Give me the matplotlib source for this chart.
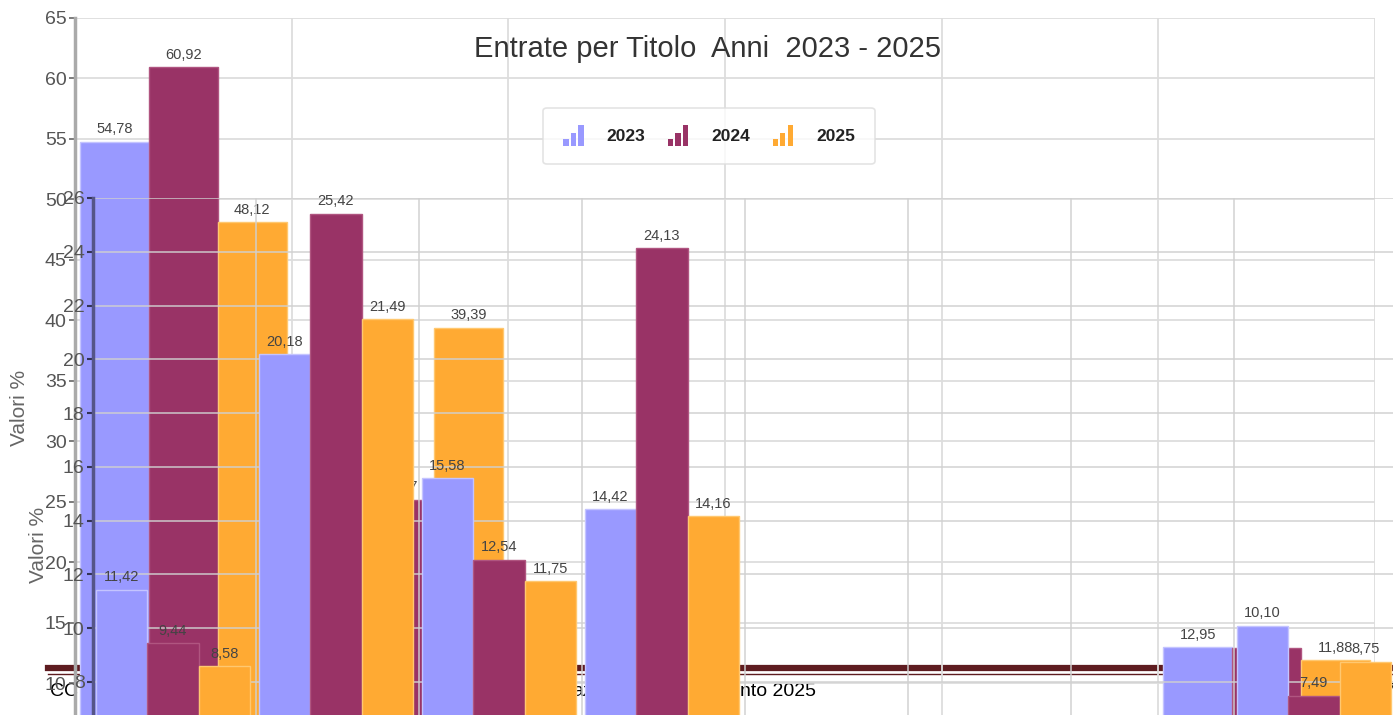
import numpy as np
import matplotlib
matplotlib.use("Agg")
import matplotlib.pyplot as plt
from matplotlib.patches import Rectangle
from matplotlib.legend_handler import HandlerBase
from matplotlib.lines import Line2D

plt.rcParams['font.family'] = ['Liberation Sans', 'DejaVu Sans']

# ---------------- data ----------------
years = ["2023", "2024", "2025"]
colors = ["#9999FF", "#993366", "#FFAA33"]
edge_colors = ["#C4C4FF", "#B05580", "#FFC870"]

# back chart (scale 0-65)
back_2023 = [54.78, np.nan, np.nan, np.nan, np.nan, 12.95]
back_2024 = [60.92, 25.17, np.nan, np.nan, np.nan, 12.91]
back_2025 = [48.12, 39.39, np.nan, np.nan, np.nan, 11.88]
back_ticks = [10, 15, 20, 25, 30, 35, 40, 45, 50, 55, 60, 65]

# front chart (scale 8-26)
front_2023 = [11.42, 20.18, 15.58, 14.42, np.nan, np.nan, np.nan, 10.10]
front_2024 = [9.44, 25.42, 12.54, 24.13, np.nan, np.nan, np.nan, 7.49]
front_2025 = [8.58, 21.49, 11.75, 14.16, np.nan, np.nan, np.nan, 8.75]
front_ticks = [8, 10, 12, 14, 16, 18, 20, 22, 24, 26]

title = "Entrate per Titolo  Anni  2023 - 2025"
ylabel = "Valori %"
footer_bits = [("CC", 50), ("az", 572), ("nto 2025", 740), ("7", 1385)]

# ---------------- layout helpers ----------------
W, H = 1393, 715
fig = plt.figure(figsize=(W / 100, H / 100), dpi=100)
fig.patch.set_facecolor("white")

def fx(px):
    return px / W

def fy(py):
    return 1 - py / H

def fmt(v):
    return f"{v:.2f}".replace(".", ",")

# footer layer (behind everything)
fig.add_artist(Line2D([fx(48), 1.0], [fy(667.5), fy(667.5)], color="#5E1C20",
                      lw=4.5, zorder=-5, transform=fig.transFigure))
fig.add_artist(Line2D([fx(48), 1.0], [fy(674), fy(674)], color="#5E1C20",
                      lw=1.0, zorder=-5, transform=fig.transFigure))
for txt, xp in footer_bits:
    fig.text(fx(xp), fy(692), txt, fontsize=14, color="black", va="center",
             ha="left", zorder=-4)

# ---------------- back chart ----------------
a_top, a_bot = 18, 715
a_ppu = (683 - 18) / 55.0
a_ymin = 65 - (a_bot - a_top) / a_ppu
axA = fig.add_axes([fx(75), fy(a_bot), fx(1375) - fx(75), fy(a_top) - fy(a_bot)])
axA.set_zorder(1)
axA.patch.set_alpha(0)
axA.set_xlim(0, 6)
axA.set_ylim(a_ymin, 65)
nA = len(back_2023)
xA = np.arange(nA) + 0.5
wA = 0.318
for k, (vals, c, ec) in enumerate(zip([back_2023, back_2024, back_2025], colors, edge_colors)):
    pos = xA + (k - 1) * wA
    axA.bar(pos, vals, width=wA, bottom=0, color=c, edgecolor=ec, lw=1,
            zorder=3, label=years[k])
    for p, v in zip(pos, vals):
        if not np.isnan(v):
            axA.annotate(fmt(v), (p, v), xytext=(0, 4), textcoords="offset points",
                         ha="center", va="bottom", fontsize=10.5, color="#444444", zorder=4)
axA.set_yticks(back_ticks)
axA.set_yticklabels([str(t) for t in back_ticks], fontsize=14, color="#555555")
axA.set_xticks(np.arange(0, nA + 1))
axA.tick_params(axis="x", length=0, labelbottom=False)
axA.tick_params(axis="y", length=4, width=1.2, color="#666666", pad=2)
axA.grid(True, color="#DDDDDD", lw=1.3, zorder=0)
axA.set_axisbelow(True)
for s in ["top", "right", "bottom"]:
    axA.spines[s].set_visible(False)
axA.spines["left"].set_color("#AAAAAA")
axA.spines["left"].set_linewidth(2.5)
axA.set_ylabel(ylabel, fontsize=15, color="#666666")
axA.yaxis.set_label_coords((29 - 75) / 1300, (715 - 408) / (a_bot - a_top))
axA.text((707 - 75) / 1300, (715 - 49) / (a_bot - a_top), title, transform=axA.transAxes,
         fontsize=21, color="#333333", ha="center", va="center", zorder=5)


class BarIconHandler(HandlerBase):
    def create_artists(self, legend, orig_handle, xdescent, ydescent, width, height,
                       fontsize, trans):
        c = orig_handle.patches[0].get_facecolor()
        arts = []
        bw = width / 4.2
        for i, hf in enumerate([0.3, 0.6, 1.0]):
            r = Rectangle((-xdescent + i * bw * 1.4, -ydescent - height * 0.15), bw,
                          height * 1.3 * hf, facecolor=c, edgecolor="none",
                          transform=trans)
            arts.append(r)
        return arts


handles, labels = axA.get_legend_handles_labels()
leg = axA.legend(handles, labels, loc="center",
                 bbox_to_anchor=((709 - 75) / 1300, (715 - 136) / 697),
                 ncol=3, frameon=True, fancybox=True,
                 prop={"weight": "bold", "size": 12.5}, handlelength=1.3, handleheight=1.0,
                 handletextpad=1.2, columnspacing=1.3, borderpad=1.15,
                 handler_map={type(handles[0]): BarIconHandler()})
leg.get_frame().set_edgecolor("#DDDDDD")
leg.get_frame().set_linewidth(1.2)
for t in leg.get_texts():
    t.set_color("#222222")

# ---------------- front chart ----------------
b_top, b_bot = 198, 715
b_ppu = (682 - 198) / 18.0
b_ymin = 26 - (b_bot - b_top) / b_ppu
gB = 163
nB = len(front_2023)
axB = fig.add_axes([fx(93), fy(b_bot), fx(93 + nB * gB) - fx(93), fy(b_top) - fy(b_bot)])
axB.set_zorder(2)
axB.patch.set_alpha(0)
axB.set_xlim(0, nB)
axB.set_ylim(b_ymin, 26)
xB = np.arange(nB) + 0.49
wB = 0.315
for k, (vals, c, ec) in enumerate(zip([front_2023, front_2024, front_2025], colors, edge_colors)):
    pos = xB + (k - 1) * wB
    axB.bar(pos, vals, width=wB, bottom=0, color=c, edgecolor=ec, lw=1, zorder=3)
    for p, v in zip(pos, vals):
        if not np.isnan(v):
            axB.annotate(fmt(v), (p, v), xytext=(0, 4), textcoords="offset points",
                         ha="center", va="bottom", fontsize=10.5, color="#444444", zorder=4)
axB.set_yticks(front_ticks)
axB.set_yticklabels([str(t) for t in front_ticks], fontsize=14, color="#555555")
axB.set_xticks(np.arange(0, nB + 1))
axB.tick_params(axis="x", length=0, labelbottom=False)
axB.tick_params(axis="y", length=4, width=1.5, color="#333355", pad=2)
axB.grid(True, color="#D0D0D0", lw=1.3, alpha=0.8, zorder=0)
axB.set_axisbelow(True)
for s in ["top", "right", "bottom"]:
    axB.spines[s].set_visible(False)
axB.spines["left"].set_color("#555588")
axB.spines["left"].set_linewidth(2.5)
axB.set_ylabel(ylabel, fontsize=15, color="#666666")
axB.yaxis.set_label_coords((48 - 93) / (nB * gB), (715 - 545) / (b_bot - b_top))

fig.savefig("out.png", dpi=100, facecolor="white")
